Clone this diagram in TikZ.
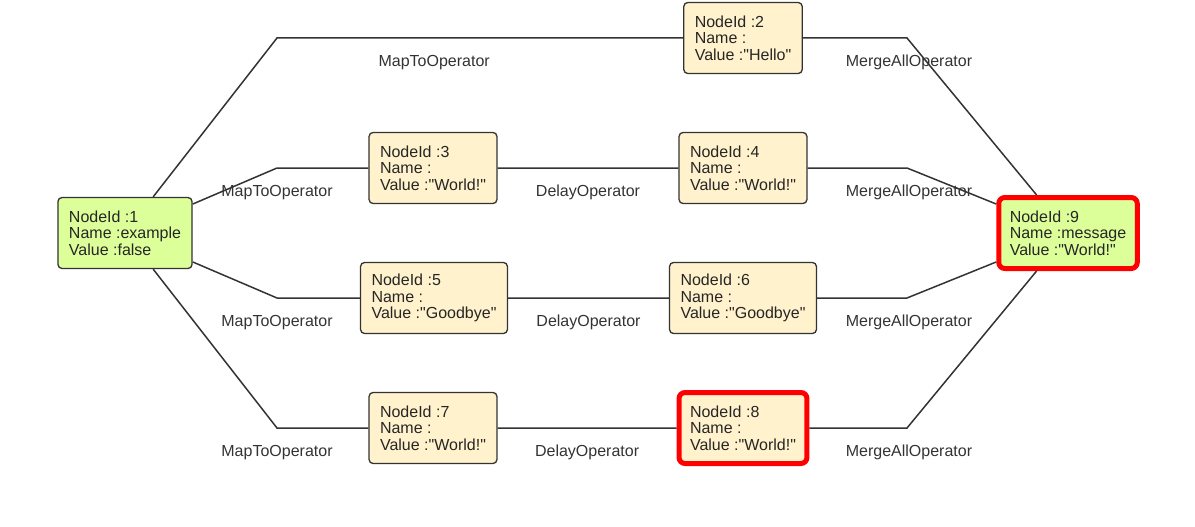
\documentclass[tikz,border=0pt]{standalone}
\usepackage{fontspec}
\setmainfont{Liberation Sans}
\usetikzlibrary{positioning}
\definecolor{srcgreen}{HTML}{DDFF99}
\definecolor{valyellow}{HTML}{FFF2CC}
\definecolor{wiregray}{HTML}{333333}
\newcommand{\nd}[3]{NodeId :#1\\Name :#2\\Value :#3}
\newcommand{\qt}[1]{\textquotedbl#1\textquotedbl}

\begin{document}
\begin{tikzpicture}[x=1pt,y=-1pt,
  every node/.style={font=\fontsize{16}{16.5}\selectfont,text=black!85},
  val/.style={draw=wiregray,line width=1.3pt,rounded corners=4pt,fill=valyellow,
              align=left,minimum height=71pt,inner xsep=11pt},
  src/.style={val,fill=srcgreen},
  hit/.style={draw=red,line width=5pt,rounded corners=6pt},
  wire/.style={draw=wiregray,line width=1.5pt},
  op/.style={below=13pt,text=wiregray}]
\useasboundingbox (0,0) rectangle (1195,527);
\node[src]     (n1) at (125,233)  {\nd{1}{example}{false}};
\node[val]     (n2) at (743,38)   {\nd{2}{}{\qt{Hello}}};
\node[val]     (n3) at (433,168)  {\nd{3}{}{\qt{World!}}};
\node[val]     (n4) at (743,168)  {\nd{4}{}{\qt{World!}}};
\node[val]     (n5) at (434,298)  {\nd{5}{}{\qt{Goodbye}}};
\node[val]     (n6) at (743,298)  {\nd{6}{}{\qt{Goodbye}}};
\node[val]     (n7) at (433,428)  {\nd{7}{}{\qt{World!}}};
\node[val,hit] (n8) at (743,428)  {\nd{8}{}{\qt{World!}}};
\node[src,hit] (n9) at (1068,233) {\nd{9}{message}{\qt{World!}}};
%
\coordinate (b0) at (277,38);  \coordinate (c0) at (907,38);
\coordinate (b1) at (277,168); \coordinate (c1) at (907,168);
\coordinate (b2) at (277,298); \coordinate (c2) at (907,298);
\coordinate (b3) at (277,428); \coordinate (c3) at (907,428);
%
\path[wire]
  (n1) -- (b0) -- node[op,pos=0.387] {MapToOperator} (n2)
  (n2) -- (c0) node[op,xshift=2pt] {MergeAllOperator} -- (n9)
  (n1) -- (b1) node[op] {MapToOperator} -- (n3)
  (n3) -- node[op] {DelayOperator} (n4)
  (n4) -- (c1) node[op,xshift=2pt] {MergeAllOperator} -- (n9)
  (n1) -- (b2) node[op] {MapToOperator} -- (n5)
  (n5) -- node[op] {DelayOperator} (n6)
  (n6) -- (c2) node[op,xshift=2pt] {MergeAllOperator} -- (n9)
  (n1) -- (b3) node[op] {MapToOperator} -- (n7)
  (n7) -- node[op] {DelayOperator} (n8)
  (n8) -- (c3) node[op,xshift=2pt] {MergeAllOperator} -- (n9)
; %-path-%
\end{tikzpicture}
\end{document}
